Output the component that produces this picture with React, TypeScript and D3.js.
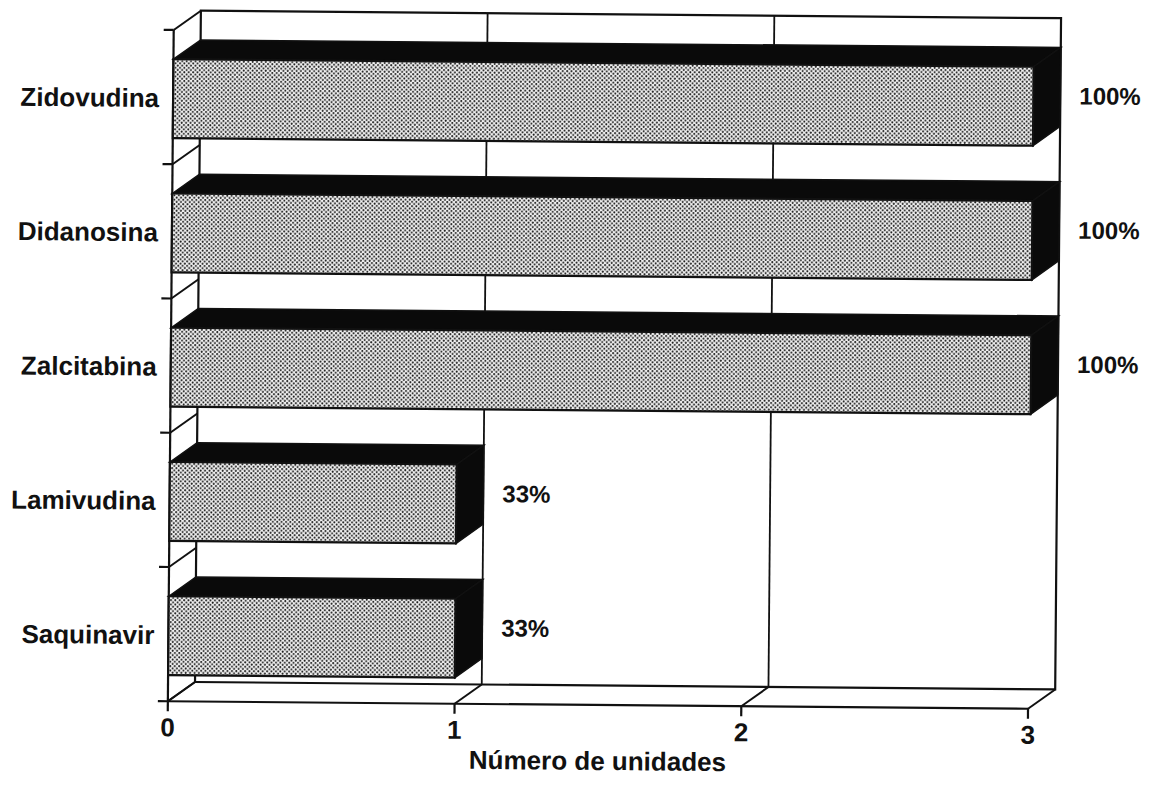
import React from "react";
import * as d3 from "d3";

const categories = ["Zidovudina", "Didanosina", "Zalcitabina", "Lamivudina", "Saquinavir"];
const values = [3, 3, 3, 1, 1];
const percentLabels = ["100%", "100%", "100%", "33%", "33%"];
const xTicks = [0, 1, 2, 3];
const xAxisTitle = "Número de unidades";

const W = 1151;
const H = 786;
const DX = 27;
const DY = -19.5;
const FONT = "'Liberation Sans', Arial, Helvetica, sans-serif";

export default function App() {
  const x = d3.scaleLinear().domain([0, 3]).range([170.5, 1030.7]);
  const y = d3.scaleBand<string>().domain(categories).range([33.7, 705]);
  const bw = y.bandwidth();
  const x0 = x(0);
  const x3 = x(3);
  const top = y.range()[0];
  const bottom = y.range()[1];
  const boundaries = categories.map((c) => y(c) as number).concat([bottom]);
  const line = d3.line<[number, number]>();

  const stroke = "#111";
  return (
    <svg
      width={W}
      height={H}
      style={{ position: "absolute", left: 0, top: 0, background: "#fff" }}
      fontFamily={FONT}
    >
      <defs>
        <pattern id="stip" width="4.4" height="4.4" patternUnits="userSpaceOnUse">
          <rect width="4.4" height="4.4" fill="#f2f2f2" />
          <circle cx="1.1" cy="1.1" r="1.0" fill="#1a1a1a" />
          <circle cx="3.3" cy="3.3" r="1.0" fill="#1a1a1a" />
        </pattern>
      </defs>
      <g transform="rotate(0.5,600,400)">
        {/* back wall */}
        <rect
          x={x0 + DX}
          y={top + DY}
          width={x3 - x0}
          height={bottom - top}
          fill="#fff"
          stroke={stroke}
          strokeWidth={2.2}
        />
        {/* back vertical gridlines */}
        {xTicks.slice(1, -1).map((t) => (
          <line
            key={"g" + t}
            x1={x(t) + DX}
            x2={x(t) + DX}
            y1={top + DY}
            y2={bottom + DY}
            stroke={stroke}
            strokeWidth={1.8}
          />
        ))}
        {/* floor */}
        <line x1={x0} x2={x3} y1={bottom} y2={bottom} stroke={stroke} strokeWidth={2.2} />
        {xTicks.map((t) => (
          <g key={"f" + t}>
            <path
              d={line([[x(t), bottom], [x(t) + DX, bottom + DY]]) as string}
              stroke={stroke}
              strokeWidth={2}
              fill="none"
            />
            <line x1={x(t)} x2={x(t)} y1={bottom} y2={bottom + 10} stroke={stroke} strokeWidth={2.2} />
            <text
              x={x(t)}
              y={bottom + 35}
              textAnchor="middle"
              fontSize={26}
              fontWeight={700}
              fill="#111"
            >
              {t}
            </text>
          </g>
        ))}
        {/* left wall */}
        <line x1={x0} x2={x0} y1={top} y2={bottom} stroke={stroke} strokeWidth={2.2} />
        {boundaries.map((b, i) => (
          <g key={"lw" + i}>
            <path
              d={line([[x0, b], [x0 + DX, b + DY]]) as string}
              stroke={stroke}
              strokeWidth={2}
              fill="none"
            />
            <line x1={x0 - 10} x2={x0} y1={b} y2={b} stroke={stroke} strokeWidth={2.2} />
          </g>
        ))}
        {/* bars */}
        {categories.map((c, i) => {
          const bt = (y(c) as number) + bw * 0.218;
          const bb = (y(c) as number) + bw * 0.806;
          const xv = x(values[i]);
          const topFace: [number, number][] = [
            [x0, bt],
            [x0 + DX, bt + DY],
            [xv + DX, bt + DY],
            [xv, bt],
          ];
          const sideFace: [number, number][] = [
            [xv, bt],
            [xv + DX, bt + DY],
            [xv + DX, bb + DY],
            [xv, bb],
          ];
          return (
            <g key={"b" + c}>
              <path d={(line(topFace) as string) + "Z"} fill="#0a0a0a" stroke={stroke} strokeWidth={1.5} />
              <path d={(line(sideFace) as string) + "Z"} fill="#0a0a0a" stroke={stroke} strokeWidth={1.5} />
              <rect
                x={x0}
                y={bt}
                width={xv - x0}
                height={bb - bt}
                fill="url(#stip)"
                stroke={stroke}
                strokeWidth={2.2}
              />
              <text
                x={x0 - 14}
                y={(y(c) as number) + bw / 2 + 1}
                dy="0.35em"
                textAnchor="end"
                fontSize={26}
                fontWeight={700}
                fill="#111"
              >
                {c}
              </text>
              <text
                x={xv + DX + 19}
                y={(y(c) as number) + bw / 2 - 9}
                dy="0.35em"
                textAnchor="start"
                fontSize={24}
                fontWeight={700}
                fill="#111"
              >
                {percentLabels[i]}
              </text>
            </g>
          );
        })}
        {/* axis title */}
        <text
          x={(x0 + x3) / 2}
          y={bottom + 65}
          textAnchor="middle"
          fontSize={26}
          fontWeight={700}
          fill="#111"
        >
          {xAxisTitle}
        </text>
      </g>
    </svg>
  );
}
